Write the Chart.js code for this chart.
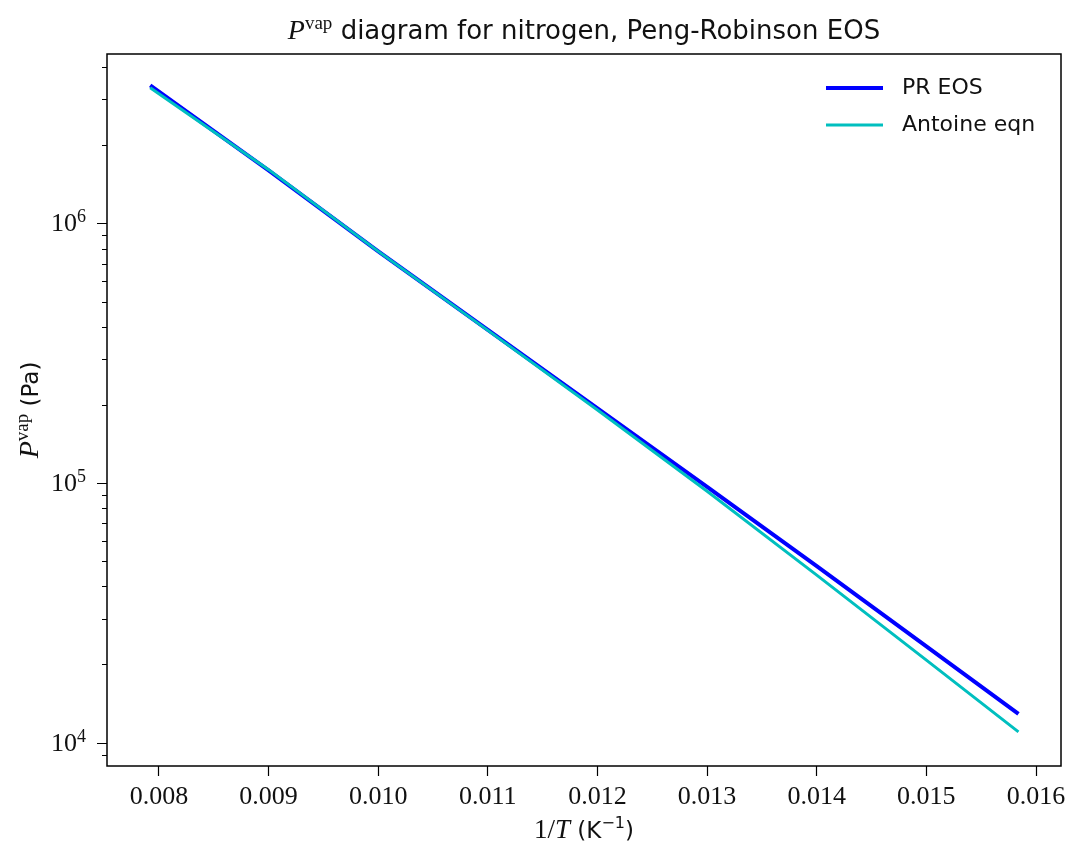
<!DOCTYPE html>
<html>
<head>
<meta charset="utf-8">
<script src="https://cdn.jsdelivr.net/npm/chart.js@4"></script>
<style>
  html, body { margin: 0; padding: 0; background: #fff; }
  #wrap { width: 1073px; height: 852px; }
</style>
</head>
<body>
<div id="wrap"><canvas id="pvap"></canvas></div>
<script>
// 1/T values (K^-1)
var invT = [0.00792, 0.009, 0.010, 0.011, 0.012, 0.013, 0.014, 0.015, 0.01584];
// vapour pressure (Pa)
var prEos = [3.40e6, 1.60e6, 7.8e5, 3.89e5, 1.94e5, 9.66e4, 4.79e4, 2.35e4, 1.29e4];
var antoine = [3.33e6, 1.61e6, 7.8e5, 3.87e5, 1.91e5, 9.3e4, 4.42e4, 2.08e4, 1.10e4];

var xTicks = [0.008, 0.009, 0.010, 0.011, 0.012, 0.013, 0.014, 0.015, 0.016];
var yMajor = [1e4, 1e5, 1e6];
var yMinor = [9e3, 2e4, 3e4, 4e4, 5e4, 6e4, 7e4, 8e4, 9e4,
  2e5, 3e5, 4e5, 5e5, 6e5, 7e5, 8e5, 9e5, 2e6, 3e6, 4e6];

var serif = '"Liberation Serif", "DejaVu Serif", serif';
var sans = '"DejaVu Sans", sans-serif';
var ink = '#111';

var toPoints = (ys) => invT.map((x, i) => ({ x: x, y: ys[i] }));

// measure a run of mixed-font pieces and draw it starting at x
var drawRun = (ctx, parts, x, y) => {
  for (const p of parts) {
    ctx.font = p.f;
    ctx.fillText(p.t, x, y + p.dy);
    x += ctx.measureText(p.t).width;
  }
};
var runWidth = (ctx, parts) => {
  var w = 0;
  for (const p of parts) { ctx.font = p.f; w += ctx.measureText(p.t).width; }
  return w;
};

// title, y ticks, axis labels, legend, frame
var decorations = {
  id: 'decorations',
  afterDraw(chart) {
    var ctx = chart.ctx;
    var area = chart.chartArea;
    var y = chart.scales.y;
    var midX = (area.left + area.right) / 2;
    ctx.save();

    // frame
    ctx.strokeStyle = '#000';
    ctx.lineWidth = 1.5;
    ctx.strokeRect(area.left, area.top, area.right - area.left, area.bottom - area.top);

    // y ticks
    ctx.lineWidth = 1.2;
    ctx.beginPath();
    for (const v of yMajor) {
      var py = Math.round(y.getPixelForValue(v)) + 0.5;
      ctx.moveTo(area.left, py);
      ctx.lineTo(area.left - 10, py);
    }
    for (const v of yMinor) {
      var py = Math.round(y.getPixelForValue(v)) + 0.5;
      ctx.moveTo(area.left, py);
      ctx.lineTo(area.left - 5, py);
    }
    ctx.stroke();

    ctx.fillStyle = ink;
    ctx.textBaseline = 'alphabetic';
    ctx.textAlign = 'right';
    for (const v of yMajor) {
      var py = y.getPixelForValue(v);
      var exp = String(Math.round(Math.log10(v)));
      ctx.font = '18px ' + serif;
      var ew = ctx.measureText(exp).width;
      ctx.fillText(exp, 86, py - 1);
      ctx.font = '26px ' + serif;
      ctx.fillText('10', 86 - ew, py + 8);
    }
    ctx.textAlign = 'left';

    // title
    var title = [
      { t: 'P', f: 'italic 28px ' + serif, dy: 0 },
      { t: 'vap', f: '19px ' + serif, dy: -10 },
      { t: ' diagram for nitrogen, Peng-Robinson EOS', f: '26px ' + sans, dy: 0 },
    ];
    drawRun(ctx, title, midX - runWidth(ctx, title) / 2, 39);

    // x label
    var xl = [
      { t: '1/', f: '27px ' + serif, dy: 0 },
      { t: 'T', f: 'italic 27px ' + serif, dy: 0 },
      { t: ' (K', f: '23px ' + sans, dy: 0 },
      { t: '\u22121', f: '16px ' + sans, dy: -10 },
      { t: ')', f: '23px ' + sans, dy: 0 },
    ];
    drawRun(ctx, xl, midX - runWidth(ctx, xl) / 2, 838);

    // y label
    var yl = [
      { t: 'P', f: 'italic 28px ' + serif, dy: 0 },
      { t: 'vap', f: '19px ' + serif, dy: -10 },
      { t: ' (Pa)', f: '23px ' + sans, dy: 0 },
    ];
    ctx.save();
    ctx.translate(38, (area.top + area.bottom) / 2);
    ctx.rotate(-Math.PI / 2);
    drawRun(ctx, yl, -runWidth(ctx, yl) / 2, 0);
    ctx.restore();

    // legend
    var rows = chart.data.datasets.slice().sort((a, b) => b.order - a.order);
    var ly = 88;
    for (const ds of rows) {
      ctx.strokeStyle = ds.borderColor;
      ctx.lineWidth = ds.borderWidth;
      ctx.beginPath();
      ctx.moveTo(826, ly);
      ctx.lineTo(883, ly);
      ctx.stroke();
      ctx.font = '22px ' + sans;
      ctx.fillStyle = ink;
      ctx.textBaseline = 'middle';
      ctx.fillText(ds.label, 902, ly);
      ly += 37;
    }
    ctx.restore();
  }
};

new Chart(document.getElementById('pvap'), {
  type: 'line',
  data: {
    datasets: [
      { label: 'PR EOS', data: toPoints(prEos), borderColor: '#0000ff', borderWidth: 4, order: 2 },
      { label: 'Antoine eqn', data: toPoints(antoine), borderColor: '#00bfbf', borderWidth: 3, order: 1 },
    ],
  },
  options: {
    responsive: true,
    maintainAspectRatio: false,
    animation: false,
    elements: { point: { radius: 0 }, line: { tension: 0, borderCapStyle: 'butt' } },
    layout: { padding: { top: 54, right: 12, left: 0, bottom: 0 } },
    plugins: { legend: { display: false }, tooltip: { enabled: false } },
    scales: {
      x: {
        type: 'linear',
        min: 0.007526,
        max: 0.016228,
        afterBuildTicks: (scale) => { scale.ticks = xTicks.map(v => ({ value: v })); },
        afterFit: (scale) => { scale.height = 86; },
        border: { display: false },
        grid: { drawOnChartArea: false, drawTicks: true, tickLength: 10, tickWidth: 1.2, tickColor: '#000' },
        ticks: {
          autoSkip: false,
          maxRotation: 0,
          padding: 6,
          color: ink,
          font: { family: serif, size: 26 },
          callback: (v) => Number(v).toFixed(3),
        },
      },
      y: {
        type: 'logarithmic',
        min: 8130,
        max: 4.49e6,
        afterFit: (scale) => { scale.width = 107; },
        border: { display: false },
        grid: { display: false },
        ticks: { display: false },
      },
    },
  },
  plugins: [decorations],
});
</script>
</body>
</html>
